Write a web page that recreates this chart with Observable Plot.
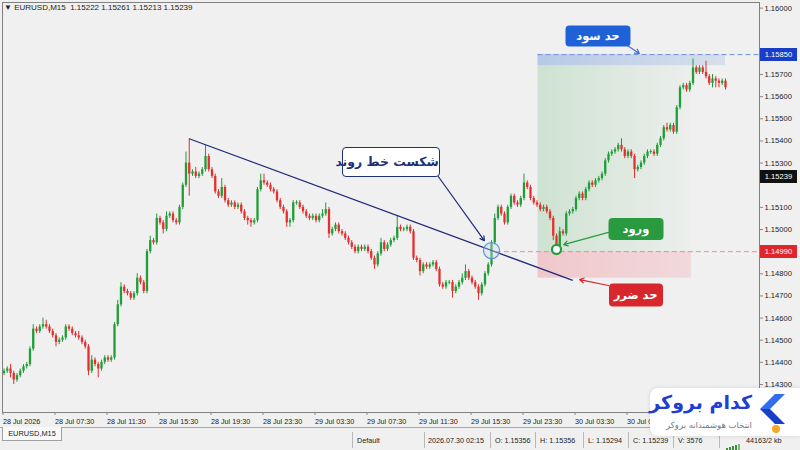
<!DOCTYPE html>
<html><head><meta charset="utf-8">
<script src="https://cdn.jsdelivr.net/npm/d3@7"></script>
<script src="https://cdn.jsdelivr.net/npm/@observablehq/plot@0.6"></script>
<style>
html,body{margin:0;padding:0}
body{width:800px;height:450px;overflow:hidden;background:#f0f0f0;position:relative;font-family:"Liberation Sans",Arial,sans-serif}
#chart{position:absolute;left:0;top:0}
.hdr{position:absolute;left:4px;top:3px;font-size:8px;color:#222;white-space:pre}
.plab{position:absolute;left:760px;width:37px;height:13px;line-height:13px;font-size:7.6px;color:#fff;text-align:center}
.call{position:absolute;transform:translate(-50%,-50%);font-family:"DejaVu Sans",sans-serif;font-weight:bold;direction:rtl;white-space:nowrap;border-radius:4px;text-align:center;box-sizing:border-box}
.sline{position:absolute;left:0;top:427px;width:800px;border-top:1px solid #a8a8a8}
.tab{position:absolute;left:2px;top:427px;width:60px;height:14px;background:#f9f9f9;border:1px solid #a0a0a0;border-top:none;box-sizing:border-box;font-size:7.4px;line-height:13px;text-align:center;color:#222}
.stxt{position:absolute;top:436px;font-size:7.2px;color:#222;white-space:nowrap}
.ssep{position:absolute;top:432px;height:16px;border-left:1px solid #b8b8b8}
#logo{position:absolute;left:650px;top:388px;width:150px;height:48px;background:#fff;border-radius:8px 0 0 8px;box-shadow:0 0 4px rgba(0,0,0,0.12)}
</style></head><body>
<div id="chart"></div>
<script>
// ---------- data ----------
const symbol = "EURUSD,M15";
const headerOHLC = [1.15222, 1.15261, 1.15213, 1.15239];
const firstOpen = 1.1435;
const closes = [
1.1436,1.1437,1.1435,1.1432,1.1434,1.1436,1.1438,1.1439,1.1446,1.1455,
1.1454,1.1456,1.1457,1.1456,1.1454,1.1452,1.1449,1.1450,1.1451,1.1456,
1.1455,1.1453,1.1452,1.1451,1.1449,1.1447,1.1436,1.1441,1.1439,1.1437,
1.1440,1.1442,1.1441,1.1442,1.1457,1.1466,1.1474,1.1472,1.1471,1.1469,
1.1471,1.1478,1.1476,1.1472,1.1490,1.1495,1.1494,1.1505,1.1503,1.1500,
1.1506,1.1507,1.1504,1.1503,1.1510,1.1520,1.1530,1.1525,1.1526,1.1524,
1.1525,1.1527,1.1533,1.1527,1.1524,1.1517,1.1515,1.1519,1.1513,1.1511,
1.1512,1.1510,1.1511,1.1508,1.1505,1.1504,1.1503,1.1504,1.1518,1.1522,
1.1521,1.1520,1.1518,1.1517,1.1513,1.1510,1.1508,1.1503,1.1504,1.1512,
1.1512,1.1510,1.1508,1.1506,1.1505,1.1506,1.1504,1.1506,1.1507,1.1509,
1.1498,1.1500,1.1502,1.1499,1.1498,1.1496,1.1494,1.1492,1.1490,1.1492,
1.1491,1.1492,1.1490,1.1487,1.1484,1.1489,1.1494,1.1491,1.1493,1.1495,
1.1496,1.1501,1.1500,1.1500,1.1501,1.1499,1.1487,1.1486,1.1481,1.1484,
1.1483,1.1484,1.1485,1.1482,1.1475,1.1474,1.1476,1.1476,1.1472,1.1474,
1.1476,1.1478,1.1481,1.1478,1.1476,1.1474,1.1471,1.1475,1.1480,1.1484,
1.1494,1.1505,1.1510,1.1507,1.1503,1.1510,1.1515,1.1512,1.1511,1.1514,
1.1521,1.1519,1.1514,1.1512,1.1511,1.1509,1.1510,1.1508,1.1505,1.1497,
1.1492,1.1499,1.1498,1.1507,1.1508,1.1509,1.1514,1.1516,1.1514,1.1518,
1.1521,1.1520,1.1522,1.1523,1.1525,1.1531,1.1534,1.1535,1.1536,1.1538,
1.1536,1.1533,1.1535,1.1533,1.1527,1.1528,1.1530,1.1533,1.1535,1.1535,
1.1534,1.1538,1.1541,1.1546,1.1545,1.1547,1.1544,1.1555,1.1564,1.1565,
1.1563,1.1566,1.1573,1.1571,1.1573,1.1571,1.1569,1.1566,1.1568,1.1567,
1.1566,1.1567,1.1564];
// wick lengths in pips above / below the body
const upWick = [
1,1,2,1,1,1,1,1,1,2, 1,1,3,2,1,1,1,1,1,1, 1,1,1,2,1,1,1,2,1,1, 1,1,1,1,1,2,2,1,1,1,
1,2,1,1,1,2,1,2,1,1, 2,1,1,1,1,1,5,11,1,2, 1,1,5,1,1,1,1,4,1,1, 1,1,1,1,1,1,1,1,1,3,
3,1,1,1,1,1,1,1,1,1, 1,1,1,1,1,1,1,1,2,3, 1,1,1,1,1,1,1,1,1,1, 1,1,1,1,1,1,2,1,1,1,
1,5,1,1,1,1,1,1,1,1, 1,1,1,1,1,1,1,1,1,1, 1,2,3,1,1,1,1,1,1,1, 1,2,1,1,1,1,1,1,1,1,
4,1,1,1,1,1,1,1,1,1, 1,2,1,1,1,1,1,1,1,1, 1,1,1,1,1,1,1,1,1,1, 3,1,1,1,1,1,1,1,1,1,
1,1,1,1,2,1,1,1,1,1, 1,1,4,1,1,1,5,1,2,1, 1,1,1];
const dnWick = [
1,1,2,2,1,1,1,1,1,1, 1,1,1,1,1,1,2,1,1,1, 1,1,1,1,1,1,2,1,1,4, 1,1,1,1,1,1,1,1,1,1,
1,1,1,1,1,1,1,1,1,2, 1,1,1,1,1,1,1,10,1,1, 1,1,1,1,1,1,1,1,1,1, 1,1,1,1,1,2,2,1,1,1,
1,1,1,1,1,1,1,2,2,1, 1,1,1,1,1,1,1,1,1,1, 2,1,1,1,1,1,1,1,1,1, 1,1,1,1,2,1,1,1,1,1,
1,1,1,1,1,1,1,1,2,1, 1,1,1,1,1,1,1,1,3,1, 1,1,1,1,1,1,3,1,1,1, 1,1,1,1,1,1,1,1,1,1,
1,1,1,1,1,1,1,1,1,2, 2,1,1,1,1,1,1,1,1,1, 1,1,1,1,1,1,1,1,1,1, 1,1,1,1,4,1,1,1,1,1,
1,1,1,1,1,1,1,1,1,1, 1,1,1,1,1,1,1,1,2,3, 2,1,1];
const xTickBars = [0,16,32,48,64,80,96,112,128,144,160,176,192];
const xTickLabels = ["28 Jul 2026","28 Jul 07:30","28 Jul 11:30","28 Jul 15:30","28 Jul 19:30","28 Jul 23:30",
  "29 Jul 03:30","29 Jul 07:30","29 Jul 11:30","29 Jul 15:30","29 Jul 23:30","30 Jul 03:30","30 Jul 07:30"];
const yTicks = [1.143,1.144,1.145,1.146,1.147,1.148,1.150,1.151,1.153,1.154,1.155,1.156,1.157,1.160];
const levelPrices = [1.1579, 1.15239, 1.1490];
const levelTexts = ["1.15850","1.15239","1.14990"];
const statusLabels = ["Default","2026.07.30 02:15","O: 1.15356","H: 1.15356","L: 1.15294","C: 1.15239","V: 3576","44163/2 kb"];
// annotation geometry (bar index, price)
const trendLine = [{b1:57, p1:1.1541, b2:175, p2:1.1477}];
const tpBand = [{b1:164.3, b2:222, p1:1.1574, p2:1.1579}];
const profitZone = [{b1:164.3, b2:211.5, p1:1.1490, p2:1.1574}];
const lossZone = [{b1:164.3, b2:211.5, p1:1.1478, p2:1.1490}];
const breakPoint = [{b:150.0, p:1.14905}];
const entryPoint = [{b:170.0, p:1.14910}];
const callouts = [
  {text:"شکست خط روند", b:119.2, p:1.15303, ab1:133.4, ap1:1.15244, ab2:147.8, ap2:1.14950},
  {text:"حد سود", b:182.9, p:1.15874, ab1:191.8, ap1:1.15831, ab2:195.5, ap2:1.15795},
  {text:"ورود", b:194.6, p:1.15000, ab1:186.0, ap1:1.14987, ab2:172.2, ap2:1.14932},
  {text:"حد ضرر", b:194.5, p:1.14704, ab1:186.0, ap1:1.14747, ab2:177.1, ap2:1.14774}
];

// ---------- styles ----------
const GREEN = "#1f9e37", RED = "#e52f2f";
const calloutStyles = [
  {bg:"#fff", color:"#1d2f78", border:"1px solid #1d2f78", w:98, h:30, fs:12.5, arrow:"#1f2a7a"},
  {bg:"#1f62d8", color:"#fff", border:"none", w:65, h:21, fs:11.5, arrow:"#3f6fd8"},
  {bg:"#2a9a40", color:"#fff", border:"none", w:55, h:22, fs:11.5, arrow:"#2a9a40"},
  {bg:"#d8262d", color:"#fff", border:"none", w:54, h:23, fs:11.5, arrow:"#d8262d"}
];
const levelColors = ["#1a3dc8","#111111","#e0262b"];

const pip = 0.0001;
const candles = closes.map((c, i) => {
  const o = i === 0 ? firstOpen : closes[i - 1];
  const lo = Math.min(o, c), hi = Math.max(o, c);
  const mid = (lo + hi) / 2;
  return {i, o, c, up: c >= o, h: hi + upWick[i] * pip, l: lo - dnWick[i] * pip,
    b1: hi - lo < 0.00004 ? mid - 0.00002 : lo, b2: hi - lo < 0.00004 ? mid + 0.00002 : hi};
});
const xEnd = 232.46;

const plot = Plot.plot({
  width: 800, height: 450,
  marginLeft: 2, marginRight: 41, marginTop: 2, marginBottom: 38,
  style: {background: "transparent", fontFamily: "Liberation Sans, Arial, sans-serif", color: "#222", overflow: "visible"},
  x: {type: "linear", domain: [-0.46, xEnd], axis: null},
  y: {type: "linear", domain: [1.141735, 1.160254], axis: null},
  marks: [
    Plot.rect(profitZone, {x1: "b1", x2: "b2", y1: "p1", y2: "p2", fill: "url(#gProfit)"}),
    Plot.rect(lossZone, {x1: "b1", x2: "b2", y1: "p1", y2: "p2", fill: "url(#gLoss)"}),
    Plot.rect(tpBand, {x1: "b1", x2: "b2", y1: "p1", y2: "p2", fill: "url(#gTp)"}),
    Plot.ruleY([levelPrices[0]], {x1: 164.3, x2: xEnd, stroke: "#6d8fdc", strokeWidth: 1, strokeDasharray: "5,3"}),
    Plot.ruleY([levelPrices[2]], {x1: 151.5, x2: xEnd, stroke: "#ec8f93", strokeWidth: 1, strokeDasharray: "5,3"}),
    Plot.ruleX(candles.filter(d => d.up), {x: "i", y1: "l", y2: "h", stroke: GREEN, strokeWidth: 1}),
    Plot.ruleX(candles.filter(d => !d.up), {x: "i", y1: "l", y2: "h", stroke: RED, strokeWidth: 1}),
    Plot.ruleX(candles.filter(d => d.up), {x: "i", y1: "b1", y2: "b2", stroke: GREEN, strokeWidth: 2.3}),
    Plot.ruleX(candles.filter(d => !d.up), {x: "i", y1: "b1", y2: "b2", stroke: RED, strokeWidth: 2.3}),
    Plot.link(trendLine, {x1: "b1", y1: "p1", x2: "b2", y2: "p2", stroke: "#1f2a7a", strokeWidth: 1.3}),
    Plot.dot(breakPoint, {x: "b", y: "p", r: 8, stroke: "#5f93dc", strokeWidth: 1.2, fill: "#cfe0f5", fillOpacity: 0.35}),
    Plot.dot(entryPoint, {x: "b", y: "p", r: 4.5, stroke: "#2a9a40", strokeWidth: 2.2, fill: "#fff"}),
    ...callouts.map((c, k) => Plot.arrow([c], {x1: "ab1", y1: "ap1", x2: "ab2", y2: "ap2", stroke: calloutStyles[k].arrow, strokeWidth: 1.2, headLength: 6})),
    Plot.axisY({anchor: "right", ticks: yTicks, tickFormat: d3.format(".5f"), tickSize: 3, tickPadding: 2, fontSize: 7.6, stroke: "#888"}),
    Plot.axisX({ticks: xTickBars, tickFormat: d => xTickLabels[xTickBars.indexOf(d)], textAnchor: "start", dx: -1, tickSize: 3, tickPadding: 3, fontSize: 7.2, stroke: "#888"}),
    Plot.frame({stroke: "#808080"})
  ]
});

// gradients
const svg = d3.select(plot);
const defs = svg.insert("defs", ":first-child");
function grad(id, color, o1, o2) {
  const g = defs.append("linearGradient").attr("id", id).attr("x1", "0%").attr("x2", "100%").attr("y1", "0%").attr("y2", "0%");
  g.append("stop").attr("offset", "0%").attr("stop-color", color).attr("stop-opacity", o1);
  g.append("stop").attr("offset", "100%").attr("stop-color", color).attr("stop-opacity", o2);
}
grad("gProfit", "#8cc895", 0.34, 0.04);
grad("gLoss", "#f08a94", 0.40, 0.22);
grad("gTp", "#7fa2dc", 0.50, 0.22);

const host = document.getElementById("chart");
host.appendChild(plot);
const xs = plot.scale("x"), ys = plot.scale("y");
const body = document.body;
function el(tag, cls, css, text) {
  const e = document.createElement(tag);
  if (cls) e.className = cls;
  Object.assign(e.style, css || {});
  if (text != null) e.textContent = text;
  body.appendChild(e);
  return e;
}
// header
el("div", "hdr", {}, "\u25BC " + symbol + "  " + headerOHLC.map(d3.format(".5f")).join(" "));
// price labels on the axis
levelPrices.forEach((p, k) => {
  el("div", "plab", {top: (ys.apply(p) - 6.5) + "px", background: levelColors[k]}, levelTexts[k]);
});
// callout boxes
callouts.forEach((c, k) => {
  const s = calloutStyles[k];
  el("div", "call", {left: xs.apply(c.b) + "px", top: ys.apply(c.p) + "px", width: s.w + "px", height: s.h + "px",
    lineHeight: (s.h - (s.border === "none" ? 0 : 2)) + "px", background: s.bg, color: s.color, border: s.border, fontSize: s.fs + "px"}, c.text);
});
// status bar
el("div", "sline");
el("div", "tab", {}, symbol);
const statusX = [357, 428, 495, 540, 588, 633, 678, 746];
const sepX = [352, 424, 490, 535, 583, 628, 673, 719];
sepX.forEach(x => el("div", "ssep", {left: x + "px"}));
statusLabels.forEach((t, k) => el("div", "stxt", {left: statusX[k] + "px"}, t));
const icon = el("div", null, {position: "absolute", left: "726px", top: "437px"});
icon.innerHTML = '<svg width="16" height="8"><g fill="#3f8f3f"><rect x="0" y="5" width="2" height="3"/><rect x="3" y="4" width="2" height="4"/><rect x="6" y="3" width="2" height="5"/><rect x="9" y="2" width="2" height="6"/><rect x="12" y="1" width="2" height="7" fill="#7fb87f"/></g></svg>';
// logo
const logo = el("div", null, {}); logo.id = "logo";
logo.innerHTML =
  '<div style="position:absolute;right:48px;top:3px;font-family:\'DejaVu Sans\',sans-serif;font-weight:bold;font-size:19px;color:#1e3fcf;direction:rtl;white-space:nowrap">کدام بروکر</div>' +
  '<div style="position:absolute;right:48px;top:32px;font-family:\'DejaVu Sans\',sans-serif;font-size:8.5px;color:#7a7a7a;direction:rtl;white-space:nowrap">انتخاب هوشمندانه بروکر</div>' +
  '<svg style="position:absolute;left:108px;top:5px" width="28" height="34"><polygon points="17,1 27,1 12,16 2,16" fill="#2f6df2"/><polygon points="2,16 12,16 27,31 17,31" fill="#1a3fc6"/></svg>' +
  '<div style="position:absolute;left:122px;top:37px;width:8px;height:8px;border-radius:50%;background:#f5a623"></div>';
</script>
</body></html>
